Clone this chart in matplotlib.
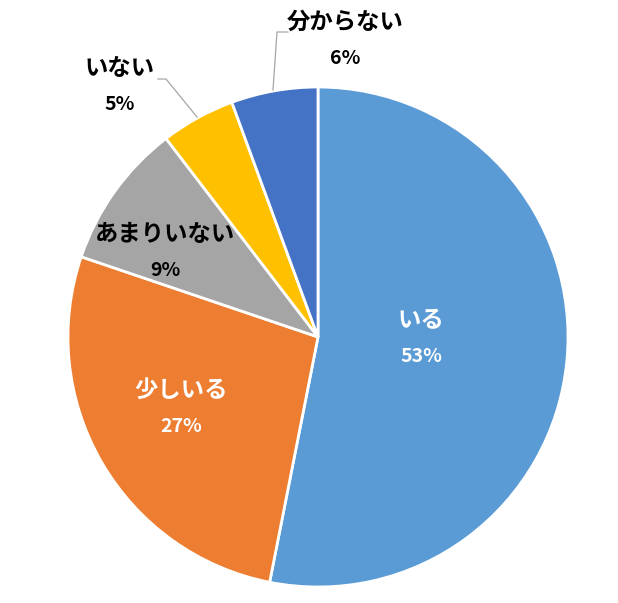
import matplotlib
matplotlib.use("Agg")
import matplotlib.pyplot as plt
import numpy as np

plt.rcParams['font.family'] = ['Noto Sans CJK JP', 'DejaVu Sans']

categories = ['いる', '少しいる', 'あまりいない', 'いない', '分からない']
values = [53.1, 27.1, 9.4, 4.8, 5.6]
colors = ['#5B9BD5', '#ED7D31', '#A5A5A5', '#FFC000', '#4472C4']
text_colors = ['white', 'white', 'black', 'black', 'black']

W, H = 618, 603
fig = plt.figure(figsize=(W / 100, H / 100), dpi=100)
ax = fig.add_axes([0, 0, 1, 1])

cx, cy, r = 318, H - 337, 250
wedges, _ = ax.pie(values, colors=colors, startangle=90, counterclock=False,
                   center=(cx, cy), radius=r, frame=True,
                   wedgeprops=dict(edgecolor='white', linewidth=2))
ax.set_xlim(0, W)
ax.set_ylim(0, H)
ax.set_aspect('equal')
ax.axis('off')

# label positions (pixel, from top)
label_pos = [(421, 320), (181, 391), (165, 234), (120, 68), (345, 22)]
for cat, val, (lx, ly), tc in zip(categories, values, label_pos, text_colors):
    ax.text(lx, H - ly, cat, ha='center', va='center', fontsize=16.8,
            fontweight='bold', color=tc)
    ax.text(lx, H - ly - 36, f'{val:.0f}%', ha='center', va='center',
            fontsize=14, fontweight='bold', color=tc)

# leader lines
ax.plot([197, 166, 158], [H - 117, H - 79, H - 79], color='#A6A6A6', lw=0.9)
ax.plot([273, 277, 288], [H - 90, H - 32, H - 32], color='#A6A6A6', lw=0.9)

fig.savefig('out.png', dpi=100, facecolor='white')
